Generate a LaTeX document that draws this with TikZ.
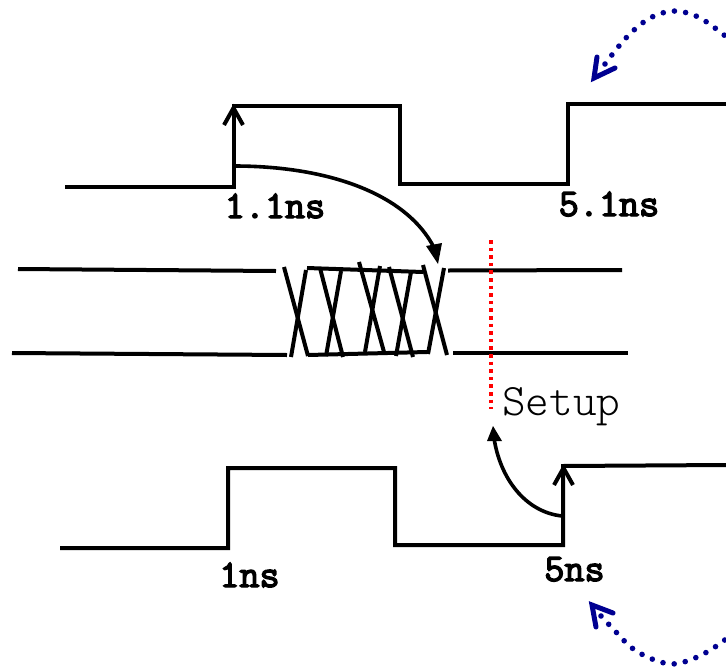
\documentclass[tikz,border=0pt]{standalone}
\usepackage{fontspec}
\newfontfamily\lightmono{Latin Modern Mono Light}
\newfontfamily\heavymono[FakeBold=3.5]{Latin Modern Mono}
\definecolor{navy}{RGB}{0,0,145}
\tikzset{
  wave/.style={line width=4pt,line join=miter,black},
  bus/.style={line width=4pt,black},
  lbl/.style={font=\heavymono\fontsize{39}{39}\selectfont,inner sep=0pt,anchor=base},
  setuplbl/.style={font=\lightmono\fontsize{45}{45}\selectfont,inner sep=0pt,anchor=base west},
  tick/.style={line width=4pt,black},
  curved/.style={line width=3.6pt,black},
  blue dots/.style={navy,line width=5.6pt,line cap=round,dash pattern=on 0pt off 11.3pt},
  blue head/.style={navy,line width=5pt,line cap=round,line join=miter},
}
\begin{document}
\begin{tikzpicture}[x=1pt,y=-1pt]
\useasboundingbox (0,0) rectangle (726,667);
\begin{scope}
\clip (0,0) rectangle (726,667);
% clocks
\draw[wave] (65,187) -- (234,187) -- (234,106) -- (400,106) -- (400,184) -- (568,184) -- (568,104) -- (726,104);
\draw[wave] (60,548) -- (228,548) -- (228,468) -- (395,468) -- (395,545) -- (563,545) -- (563,466) -- (726,465);
\draw[tick] (224,125) -- (233.5,108) -- (243,125);
\draw[tick] (554,485) -- (563.5,468) -- (573,485);
% data bus
\draw[bus] (18,269) -- (276,271);
\draw[bus] (12,353) -- (287,355);
\draw[bus] (448,270.5) -- (622,270);
\draw[bus] (453,353) -- (628,353);
\draw[bus] (307,268) -- (423,272);
\draw[bus] (308,355) -- (427,352);
\draw[bus] (284,267) -- (308,356);
\draw[bus] (306,270) -- (291,357);
\draw[bus] (320,268) -- (343,357);
\draw[bus] (341,271) -- (326,356);
\draw[bus] (359,262) -- (384,352);
\draw[bus] (380,266) -- (365,352);
\draw[bus] (389,267) -- (413,357);
\draw[bus] (411,272) -- (396,356);
\draw[bus] (423,265) -- (447,355);
\draw[bus] (444,268) -- (428,354);
% setup line
\draw[red,line width=3.5pt,dash pattern=on 3.6pt off 4pt] (491,240) -- (491,408.5);
% curved arrows
\coordinate (c1a) at (234,166);
\coordinate (c1b) at (437,254);
\draw[curved] (c1a) .. controls (330,166) and (412,195) .. (c1b);
\fill (438,264) -- (426,246) -- (442,243) -- cycle;
\coordinate (c2a) at (562,516);
\coordinate (c2b) at (494,438);
\draw[curved] (c2a) .. controls (525,512) and (500,478) .. (c2b);
\fill (493,426) -- (487,441) -- (502,441) -- cycle;
% labels
\node[lbl] (t1) at (275,218) {1.1ns};
\node[lbl] (t2) at (609,216) {5.1ns};
\node[lbl] (t3) at (249.5,587) {1ns};
\node[lbl] (t4) at (574.5,581) {5ns};
\node[setuplbl] (su) at (502,415) {Setup};
% blue dotted arcs
\draw[blue dots] plot[smooth,tension=0.6] coordinates {(605,64) (619,46) (634,30) (652,17) (674,11) (696,16) (715,28) (735,44)};
\draw[blue head] (597,57) -- (594,78) -- (615,68);
\draw[blue dots] plot[smooth,tension=0.6] coordinates {(601,616) (616,632) (632,648) (652,659) (673,664) (695,658) (715,647) (735,632)};
\draw[blue head] (596,627) -- (592,605) -- (613,613);
\end{scope}
\end{tikzpicture}
\end{document}
